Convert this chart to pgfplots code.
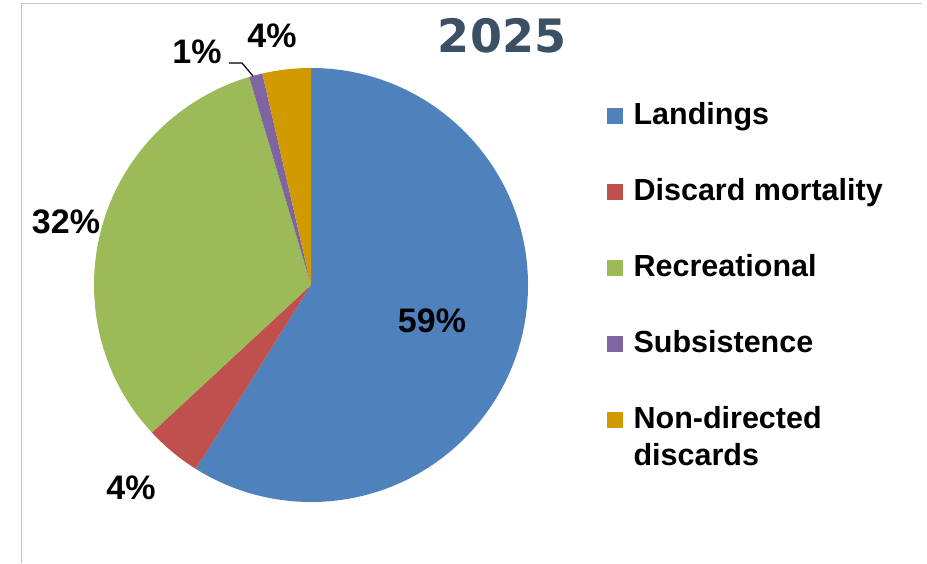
\documentclass[border=0pt]{standalone}
\usepackage{pgfplots}
\pgfplotsset{compat=1.18}
\usepackage{pgfplotstable}
\usepackage{fontspec}
\setmainfont{Liberation Sans}
\newfontfamily\titlefont{DejaVu Sans}
\definecolor{cL}{HTML}{4F81BD}
\definecolor{cD}{HTML}{C0504D}
\definecolor{cR}{HTML}{9BBB59}
\definecolor{cS}{HTML}{8064A2}
\definecolor{cN}{RGB}{208,154,0}
\definecolor{ctitle}{RGB}{59,80,99}
\definecolor{cframe}{RGB}{195,195,195}

% shares in percent, clockwise from 12 o'clock
\pgfplotstableread{
share
58.9
4.2
32.3
1.0
3.6
}\piedata

\pgfmathsetmacro\aA{90}
\pgfplotstablegetelem{0}{share}\of\piedata \pgfmathsetmacro\aB{\aA-3.6*\pgfplotsretval}
\pgfplotstablegetelem{1}{share}\of\piedata \pgfmathsetmacro\aC{\aB-3.6*\pgfplotsretval}
\pgfplotstablegetelem{2}{share}\of\piedata \pgfmathsetmacro\aD{\aC-3.6*\pgfplotsretval}
\pgfplotstablegetelem{3}{share}\of\piedata \pgfmathsetmacro\aE{\aD-3.6*\pgfplotsretval}
\pgfplotstablegetelem{4}{share}\of\piedata \pgfmathsetmacro\aF{\aE-3.6*\pgfplotsretval}

\newcommand\labfont{\fontsize{34bp}{38bp}\selectfont\bfseries}
\newcommand\legfont{\fontsize{30.5bp}{37bp}\selectfont\bfseries}

\begin{document}
\begin{tikzpicture}
\begin{axis}[
  width=927bp, height=563bp, scale only axis,
  xmin=0, xmax=927, ymin=0, ymax=563,
  hide axis, clip=false,
  legend style={at={(axis cs:607,461)}, anchor=north west, draw=none, fill=none,
    inner sep=0pt, font=\legfont, row sep=48bp, column sep=11bp,
    nodes={inner sep=0pt, text height=22bp, text depth=6bp}},
  legend cell align=left,
]
\path (axis cs:0,0) rectangle (axis cs:927,563);
% frame
\draw[cframe, line width=1bp] (axis cs:21,0) -- (axis cs:21,559) -- (axis cs:922,559);
% slices
\fill[cL] (axis cs:311,278) -- ++(\aA:217bp) arc[start angle=\aA, end angle=\aB, radius=217bp] -- cycle;
\fill[cD] (axis cs:311,278) -- ++(\aB:217bp) arc[start angle=\aB, end angle=\aC, radius=217bp] -- cycle;
\fill[cR] (axis cs:311,278) -- ++(\aC:217bp) arc[start angle=\aC, end angle=\aD, radius=217bp] -- cycle;
\fill[cS] (axis cs:311,278) -- ++(\aD:217bp) arc[start angle=\aD, end angle=\aE, radius=217bp] -- cycle;
\fill[cN] (axis cs:311,278) -- ++(\aE:217bp) arc[start angle=\aE, end angle=\aF, radius=217bp] -- cycle;
% labels
\node[anchor=base, font=\labfont] at (axis cs:432,230) {59\%};
\node[anchor=base, font=\labfont] at (axis cs:131,63) {4\%};
\node[anchor=base, font=\labfont] at (axis cs:66,329) {32\%};
\node[anchor=base, font=\labfont] at (axis cs:197,499) {1\%};
\node[anchor=base, font=\labfont] at (axis cs:272,515) {4\%};
\draw[black, line width=1.2bp] (axis cs:229,500) -- (axis cs:242,500) -- (axis cs:253,487);
% title
\node[anchor=base, text=ctitle, font={\titlefont\fontsize{46bp}{50bp}\selectfont\bfseries}] at (axis cs:502,510) {2025};
% legend
\addlegendimage{legend image code/.code={\fill[cL] (0bp,-7.5bp) rectangle (15bp,7.5bp);}}
\addlegendentry{Landings}
\addlegendimage{legend image code/.code={\fill[cD] (0bp,-7.5bp) rectangle (15bp,7.5bp);}}
\addlegendentry{Discard mortality}
\addlegendimage{legend image code/.code={\fill[cR] (0bp,-7.5bp) rectangle (15bp,7.5bp);}}
\addlegendentry{Recreational}
\addlegendimage{legend image code/.code={\fill[cS] (0bp,-7.5bp) rectangle (15bp,7.5bp);}}
\addlegendentry{Subsistence}
\addlegendimage{legend image code/.code={\fill[cN] (0bp,-7.5bp) rectangle (15bp,7.5bp);}}
\addlegendentry{\begin{tabular}[t]{@{}l@{}}Non-directed\\discards\end{tabular}}
\end{axis}
\end{tikzpicture}
\end{document}
